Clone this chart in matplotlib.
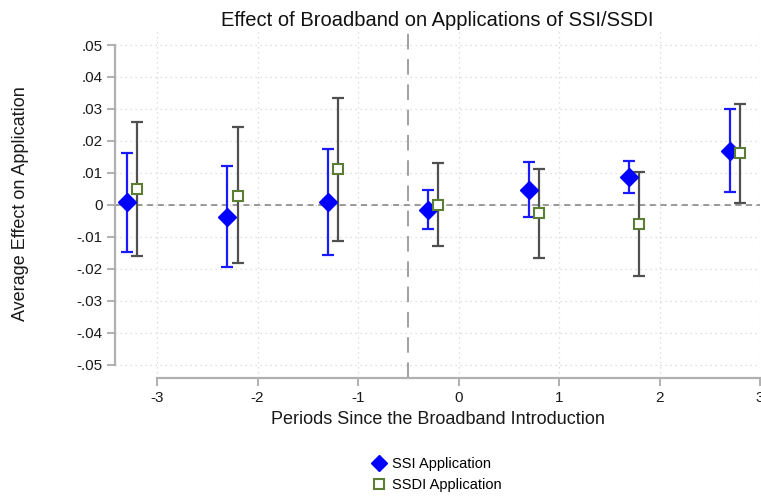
import numpy as np
import matplotlib
matplotlib.use("Agg")
import matplotlib.pyplot as plt
from matplotlib.lines import Line2D

plt.rcParams['font.family'] = ['Liberation Sans', 'DejaVu Sans']

# periods and estimates
periods = [-3, -2, -1, 0, 1, 2, 3]
ssi_est = [0.0008, -0.0037, 0.0008, -0.0016, 0.0047, 0.0088, 0.0168]
ssi_lo = [-0.0147, -0.0194, -0.0156, -0.0076, -0.0037, 0.0038, 0.0039]
ssi_hi = [0.0163, 0.0123, 0.0176, 0.0046, 0.0133, 0.0138, 0.0301]
ssdi_est = [0.0049, 0.0028, 0.0111, 0.0000, -0.0027, -0.0060, 0.0163]
ssdi_lo = [-0.0159, -0.0183, -0.0112, -0.0129, -0.0166, -0.0223, 0.0006]
ssdi_hi = [0.0258, 0.0242, 0.0333, 0.0131, 0.0112, 0.0103, 0.0315]
yticks = [-0.05, -0.04, -0.03, -0.02, -0.01, 0, 0.01, 0.02, 0.03, 0.04, 0.05]
ylabels = ['-.05', '-.04', '-.03', '-.02', '-.01', '0', '.01', '.02', '.03', '.04', '.05']

x = np.array(periods, dtype=float)
ssi_x = x - 0.3
ssdi_x = x - 0.2

fig = plt.figure(figsize=(7.61, 4.97), dpi=100)
ax = fig.add_axes([0.151, 0.2394, 0.8477, 0.7002])

ax.set_xlim(-3.42, 3.0)
ax.set_ylim(-0.0542, 0.0547)

# grid
for v in periods:
    ax.axvline(v, color='#d4d4d4', lw=0.9, ls=(0, (1, 3)), zorder=0)
for v in yticks:
    ax.axhline(v, color='#d4d4d4', lw=0.9, ls=(0, (1, 3)), zorder=0)

ax.axhline(0, color='#7f7f7f', lw=1.1, ls=(0, (4, 3)), zorder=1)
ax.axvline(-0.5, color='#a0a0a0', lw=1.4, ls=(0, (8, 5)), zorder=1)

ssi_err = [np.array(ssi_est) - np.array(ssi_lo), np.array(ssi_hi) - np.array(ssi_est)]
ssdi_err = [np.array(ssdi_est) - np.array(ssdi_lo), np.array(ssdi_hi) - np.array(ssdi_est)]

ax.errorbar(ssi_x, ssi_est, yerr=ssi_err, fmt='none', ecolor='#1a1aff',
            elinewidth=1.6, capsize=4, capthick=1.6, zorder=2)
ax.errorbar(ssdi_x, ssdi_est, yerr=ssdi_err, fmt='none', ecolor='#505050',
            elinewidth=1.6, capsize=4, capthick=1.6, zorder=2)
ax.plot(ssi_x, ssi_est, 'D', color='#0000ff', ms=9, mec='#0000ff', zorder=3)
ax.plot(ssdi_x, ssdi_est, 's', mfc='white', mec='#5c7d34', mew=1.5, ms=7, zorder=3)

for s in ['top', 'right']:
    ax.spines[s].set_visible(False)
ax.spines['left'].set_bounds(-0.05, 0.05)
ax.spines['bottom'].set_bounds(-3, 3)
for s in ['left', 'bottom']:
    ax.spines[s].set_color('#b0b0b0')
    ax.spines[s].set_linewidth(1.6)

ax.set_xticks(periods)
ax.set_xticklabels([str(p) for p in periods])
ax.set_yticks(yticks)
ax.set_yticklabels(ylabels)
ax.tick_params(axis='both', colors='#b0b0b0', width=1.4, length=6, labelsize=11,
               labelcolor='#1a1a1a')
ax.tick_params(axis='x', pad=3)
ax.tick_params(axis='y', pad=3)

ax.set_xlabel('Periods Since the Broadband Introduction', fontsize=13, color='#1a1a1a', labelpad=5)
ax.set_ylabel('Average Effect on Application', fontsize=13, color='#1a1a1a', labelpad=34)
ax.set_title('Effect of Broadband on Applications of SSI/SSDI', fontsize=14.5, color='#111111', pad=3)

handles = [
    Line2D([], [], ls='none', marker='D', color='#0000ff', ms=8),
    Line2D([], [], ls='none', marker='s', mfc='white', mec='#5c7d34', mew=1.5, ms=6.5),
]
fig.legend(handles, ['SSI Application', 'SSDI Application'], loc='center',
           bbox_to_anchor=(0.573, 0.045), frameon=False, fontsize=10.5,
           handletextpad=0.3, labelspacing=0.5, handlelength=1.2)

fig.savefig('out.png', dpi=100)
